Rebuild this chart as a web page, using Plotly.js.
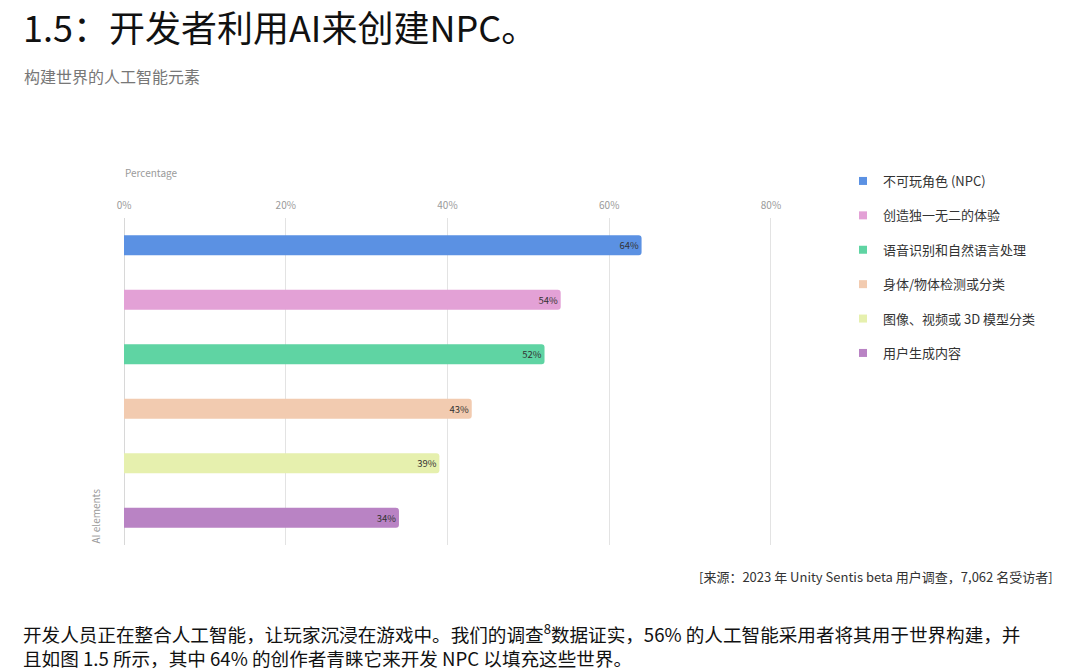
<!DOCTYPE html>
<html>
<head>
<meta charset="utf-8">
<script src="https://cdn.plot.ly/plotly-3.0.1.min.js"></script>
<style>
  html, body { margin: 0; padding: 0; background: #fff; }
  #chart { width: 1080px; height: 670px; }
</style>
</head>
<body>
<div id="chart"></div>
<script>
// AI elements for world building, percent of creators using them
var categories = [
    "不可玩角色 (NPC)",
    "创造独一无二的体验",
    "语音识别和自然语言处理",
    "身体/物体检测或分类",
    "图像、视频或 3D 模型分类",
    "用户生成内容"
];
var percents = [64, 54, 52, 43, 39, 34];
var barColors = ["#5b91e3", "#e3a1d6", "#5fd4a3", "#f2cbb0", "#e6f0ae", "#b983c4"];
var xTicks = [0, 20, 40, 60, 80];
var xTickLabels = ["0%", "20%", "40%", "60%", "80%"];

var font = "Noto Sans CJK SC, Noto Sans, sans-serif";

var traces = [];
traces.push({
    type: "bar",
    orientation: "h",
    x: percents,
    y: categories,
    width: 0.37,
    marker: { color: barColors, cornerradius: 3 },
    text: percents.map(function(p) { return p + "%"; }),
    textposition: "inside",
    insidetextanchor: "end",
    textfont: { size: 10, color: "#333", family: font },
    showlegend: false,
    hoverinfo: "x+y"
});

// legend entries: small squares like the original
for (var i = 0; i < categories.length; i++) {
    traces.push({
        type: "scatter",
        mode: "markers",
        x: [null],
        y: [null],
        name: categories[i],
        legendgroup: "g" + i,
        marker: { symbol: "square", size: 8, color: barColors[i] }
    });
}

var layout = {
    width: 1080,
    height: 670,
    margin: { l: 0, r: 0, t: 0, b: 0 },
    paper_bgcolor: "#fff",
    plot_bgcolor: "#fff",
    font: { family: font, color: "#333" },
    bargap: 0.63,
    xaxis: {
        domain: [124 / 1080, 775 / 1080],
        range: [0, 80.5],
        side: "top",
        tickvals: xTicks,
        ticktext: xTickLabels,
        tickfont: { size: 10, color: "#9a9a9a" },
        showgrid: true,
        gridcolor: "#e3e3e3",
        gridwidth: 1,
        zeroline: true,
        zerolinecolor: "#d8d8d8",
        showline: false,
        ticks: "",
        ticklabelstandoff: 6,
        fixedrange: true
    },
    yaxis: {
        domain: [1 - 545 / 670, 1 - 218 / 670],
        categoryorder: "array",
        categoryarray: categories,
        autorange: "reversed",
        showticklabels: false,
        showgrid: false,
        zeroline: false,
        ticks: "",
        fixedrange: true
    },
    showlegend: true,
    legend: {
        x: 843 / 1080,
        y: 1 - 166 / 670,
        xanchor: "left",
        yanchor: "top",
        traceorder: "grouped",
        tracegroupgap: 14.5,
        font: { size: 13, color: "#333", family: font },
        bgcolor: "rgba(0,0,0,0)"
    },
    annotations: [
        {
            text: "1.5：开发者利用AI来创建NPC。",
            xref: "paper", yref: "paper",
            x: 21 / 1080, y: 1 - 26 / 670,
            xanchor: "left", yanchor: "middle",
            showarrow: false,
            font: { size: 36, color: "#111", family: font }
        },
        {
            text: "构建世界的人工智能元素",
            xref: "paper", yref: "paper",
            x: 22 / 1080, y: 1 - 76 / 670,
            xanchor: "left", yanchor: "middle",
            showarrow: false,
            font: { size: 16, color: "#777", family: font }
        },
        {
            text: "Percentage",
            xref: "paper", yref: "paper",
            x: 123 / 1080, y: 1 - 172 / 670,
            xanchor: "left", yanchor: "middle",
            showarrow: false,
            font: { size: 10, color: "#9a9a9a", family: font }
        },
        {
            text: "AI elements",
            xref: "paper", yref: "paper",
            x: 95 / 1080, y: 1 - 546 / 670,
            xanchor: "center", yanchor: "bottom",
            textangle: -90,
            showarrow: false,
            font: { size: 10, color: "#9a9a9a", family: font }
        },
        {
            text: "[来源：2023 年 Unity Sentis beta 用户调查，7,062 名受访者]",
            xref: "paper", yref: "paper",
            x: 1055 / 1080, y: 1 - 576 / 670,
            xanchor: "right", yanchor: "middle",
            showarrow: false,
            font: { size: 13, color: "#333", family: font }
        },
        {
            text: "开发人员正在整合人工智能，让玩家沉浸在游戏中。我们的调查<sup>8</sup>数据证实，56% 的人工智能采用者将其用于世界构建，并<br>" +
                  "且如图 1.5 所示，其中 64% 的创作者青睐它来开发 NPC 以填充这些世界。",
            xref: "paper", yref: "paper",
            x: 22 / 1080, y: 1 - 645 / 670,
            xanchor: "left", yanchor: "middle",
            align: "left",
            borderpad: 0,
            showarrow: false,
            font: { size: 18.6, color: "#111", family: font }
        }
    ]
};

Plotly.newPlot("chart", traces, layout, { displayModeBar: false, staticPlot: true });
</script>
</body>
</html>
